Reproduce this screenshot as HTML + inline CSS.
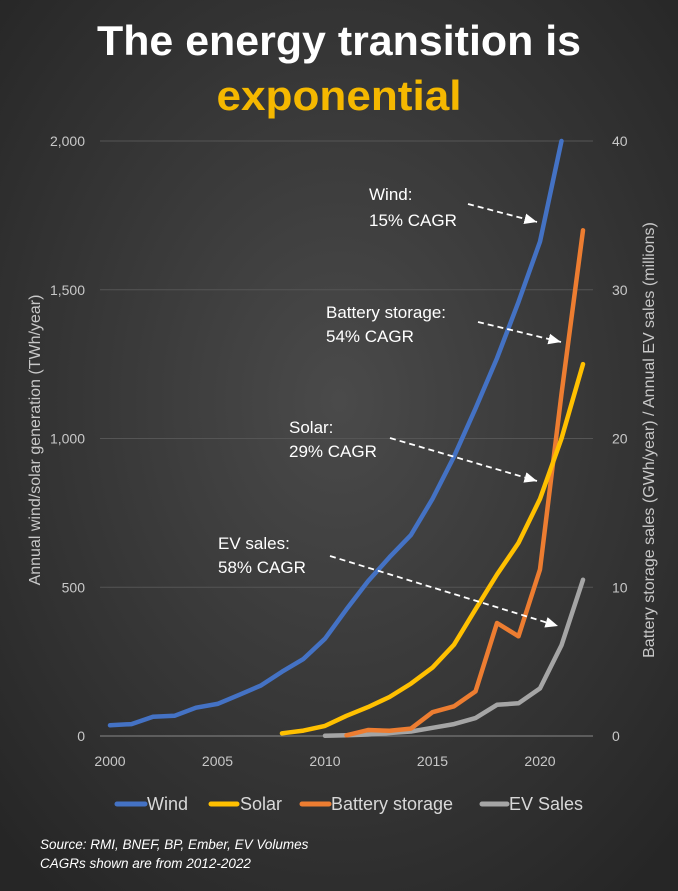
<!DOCTYPE html>
<html><head><meta charset="utf-8"><style>
html,body{margin:0;padding:0;background:#333;}
svg{display:block;font-family:"Liberation Sans",sans-serif;}
</style></head><body>
<svg id="chart" width="678" height="891" viewBox="0 0 678 891">
<defs>
<radialGradient id="bg" cx="50%" cy="45%" r="70%">
<stop offset="0" stop-color="#4a4a4a"/><stop offset="1" stop-color="#262626"/>
</radialGradient>
<marker id="ah" markerWidth="8" markerHeight="8" refX="7" refY="4" orient="auto"><path d="M0,1 L7,4 L0,7 z" fill="#fff"/></marker>
</defs>
<rect width="678" height="891" fill="url(#bg)"/>
<text x="339" y="55" text-anchor="middle" font-size="42" font-weight="bold" fill="#fff" textLength="484" lengthAdjust="spacingAndGlyphs">The energy transition is</text>
<text x="339" y="110" text-anchor="middle" font-size="42" font-weight="bold" fill="#f5b800" textLength="245" lengthAdjust="spacingAndGlyphs">exponential</text>
<g id="grid"></g><g id="axes"></g><g id="series"></g>
<text transform="translate(40,440) rotate(-90)" text-anchor="middle" font-size="16" fill="#c8c8c8">Annual wind/solar generation (TWh/year)</text>
<text transform="translate(654,440) rotate(-90)" text-anchor="middle" font-size="16" fill="#c8c8c8">Battery storage sales (GWh/year) / Annual EV sales (millions)</text>
<g font-size="17" fill="#fff">
<text x="369" y="200">Wind:</text>
<text x="369" y="226">15% CAGR</text>
<line x1="468" y1="204" x2="537" y2="222" stroke="#fff" stroke-width="1.8" stroke-dasharray="6,4" marker-end="url(#ah)"/>
<text x="326" y="318">Battery storage:</text>
<text x="326" y="342">54% CAGR</text>
<line x1="478" y1="322" x2="561" y2="342" stroke="#fff" stroke-width="1.8" stroke-dasharray="6,4" marker-end="url(#ah)"/>
<text x="289" y="433">Solar:</text>
<text x="289" y="457">29% CAGR</text>
<line x1="390" y1="438" x2="537" y2="481" stroke="#fff" stroke-width="1.8" stroke-dasharray="6,4" marker-end="url(#ah)"/>
<text x="218" y="549">EV sales:</text>
<text x="218" y="573">58% CAGR</text>
<line x1="330" y1="556" x2="558" y2="626" stroke="#fff" stroke-width="1.8" stroke-dasharray="6,4" marker-end="url(#ah)"/>
</g>
<g font-size="18" fill="#d8d8d8">
<line x1="117" y1="804" x2="145" y2="804" stroke="#4472c4" stroke-width="5" stroke-linecap="round"/>
<text x="147" y="810">Wind</text>
<line x1="211" y1="804" x2="237" y2="804" stroke="#ffc000" stroke-width="5" stroke-linecap="round"/>
<text x="240" y="810">Solar</text>
<line x1="302" y1="804" x2="329" y2="804" stroke="#ed7d31" stroke-width="5" stroke-linecap="round"/>
<text x="331" y="810">Battery storage</text>
<line x1="482" y1="804" x2="507" y2="804" stroke="#a5a5a5" stroke-width="5" stroke-linecap="round"/>
<text x="509" y="810">EV Sales</text>
</g>
<text x="40" y="849" font-size="13.5" font-style="italic" fill="#fff">Source: RMI, BNEF, BP, Ember, EV Volumes</text>
<text x="40" y="868" font-size="13.5" font-style="italic" fill="#fff">CAGRs shown are from 2012-2022</text>
</svg>
<script>
const windYears=[2000,2001,2002,2003,2004,2005,2006,2007,2008,2009,2010,2011,2012,2013,2014,2015,2016,2017,2018,2019,2020,2021];
const windValues=[36,40,65,68,95,108,138,169,216,259,327,426,520,601,676,797,939,1101,1270,1459,1662,2000];
const solarYears=[2008,2009,2010,2011,2012,2013,2014,2015,2016,2017,2018,2019,2020,2021,2022];
const solarValues=[9,18,34,68,97,131,176,230,307,426,543,649,797,1000,1250];
const batteryYears=[2011,2012,2013,2014,2015,2016,2017,2018,2019,2020,2021,2022];
const batteryValues=[0.05,0.4,0.35,0.5,1.6,2.0,3.0,7.6,6.7,11.2,23,34];
const evYears=[2010,2011,2012,2013,2014,2015,2016,2017,2018,2019,2020,2021,2022];
const evValues=[0.02,0.05,0.1,0.2,0.3,0.55,0.8,1.2,2.1,2.2,3.2,6.1,10.5];
const leftTicks=[0,500,1000,1500,2000];
const leftTickLabels=["0","500","1,000","1,500","2,000"];
const rightTicks=[0,10,20,30,40];
const xTicks=[2000,2005,2010,2015,2020];

const NS="http://www.w3.org/2000/svg";
const X0=110,X1=540,Y0=736,Y1=141;
const xs=y=>X0+(y-2000)/20*(X1-X0);
const yl=v=>Y0-v/2000*(Y0-Y1);
const yr=v=>Y0-v/40*(Y0-Y1);
function mk(tag,attrs,parent){const e=document.createElementNS(NS,tag);for(const k in attrs)e.setAttribute(k,attrs[k]);parent.appendChild(e);return e;}
const grid=document.getElementById('grid'),axes=document.getElementById('axes'),ser=document.getElementById('series');
leftTicks.forEach((t,i)=>{
  const g=mk('line',{x1:100,x2:593,y1:yl(t),y2:yl(t),stroke:t===0?'#888':'#555','stroke-width':1},grid);
  
  
  const l=mk('text',{x:85,y:yl(t)+5,'text-anchor':'end','font-size':14,fill:'#c8c8c8'},axes);
  l.textContent=leftTickLabels[i];
  
  
});
rightTicks.forEach(t=>{
  const l=mk('text',{x:612,y:yr(t)+5,'text-anchor':'start','font-size':14,fill:'#c8c8c8'},axes);
  l.textContent=String(t);
  
  
});
xTicks.forEach(t=>{
  const l=mk('text',{x:xs(t),y:766,'text-anchor':'middle','font-size':14,fill:'#c8c8c8'},axes);
  l.textContent=String(t);
  
  
});
function line(years,vals,yf,color,name){
  const d=years.map((y,i)=>(i?'L':'M')+xs(y).toFixed(1)+','+yf(vals[i]).toFixed(1)).join(' ');
  const p=mk('path',{d:d,fill:'none',stroke:color,'stroke-width':4.5,'stroke-linejoin':'round','stroke-linecap':'round'},ser);
  
  
}
line(evYears,evValues,yr,'#a5a5a5','ev-sales-line');
line(batteryYears,batteryValues,yr,'#ed7d31','battery-storage-line');
line(solarYears,solarValues,yl,'#ffc000','solar-line');
line(windYears,windValues,yl,'#4472c4','wind-line');
</script>
</body></html>
